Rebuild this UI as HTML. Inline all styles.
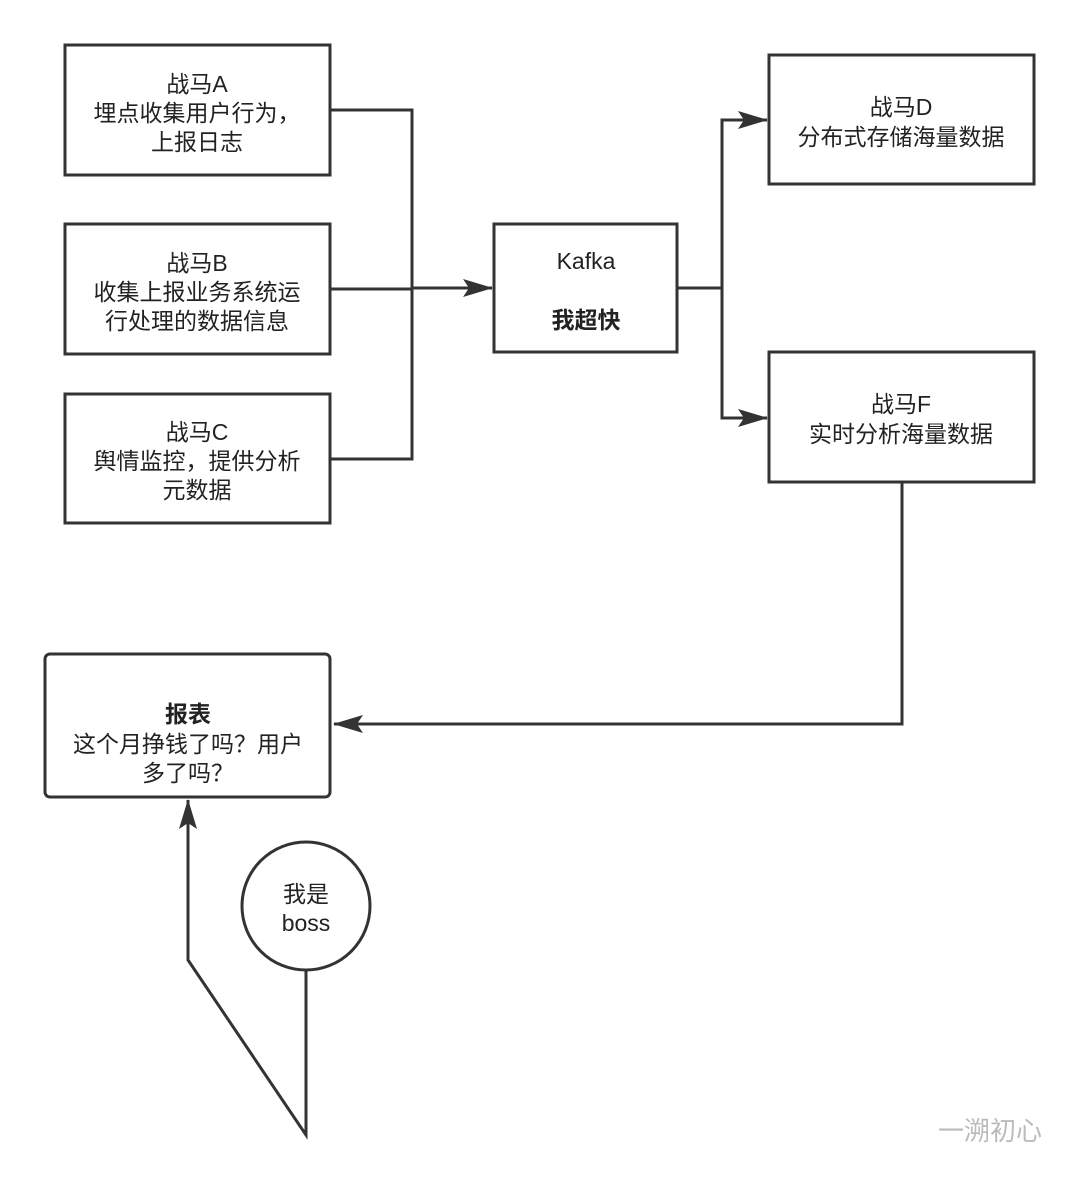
<!DOCTYPE html>
<html><head><meta charset="utf-8"><style>
body{margin:0;background:#fff;}
svg text{font-family:"Liberation Sans","Noto Sans CJK SC",sans-serif;font-size:23px;fill:#222;text-anchor:middle;}
</style></head><body>
<svg width="1080" height="1178" xmlns="http://www.w3.org/2000/svg">
<defs>
<marker id="b" markerWidth="30" markerHeight="20" refX="29" refY="10" orient="auto" markerUnits="userSpaceOnUse" viewBox="0 0 30 20"><path d="M0,1 L30,10 L0,19 L6,10 Z" fill="#333"/></marker></defs>
<g fill="none" stroke="#333" stroke-width="3">
<rect x="65" y="45" width="265" height="130"/>
<rect x="65" y="224" width="265" height="130"/>
<rect x="65" y="394" width="265" height="129"/>
<rect x="494" y="224" width="183" height="128"/>
<rect x="769" y="55" width="265" height="129"/>
<rect x="769" y="352" width="265" height="130"/>
<rect x="45" y="654" width="285" height="143" rx="5"/>
<circle cx="306" cy="906" r="64"/>
<polyline points="330,110 412,110 412,459 330,459"/>
<line x1="330" y1="289" x2="412" y2="289"/>
<line x1="412" y1="288" x2="492" y2="288" marker-end="url(#b)"/>
<polyline points="677,288 722,288"/>
<polyline points="767,120 722,120 722,418 767,418"/>
<line x1="722" y1="120" x2="767" y2="120" marker-end="url(#b)"/>
<line x1="722" y1="418" x2="767" y2="418" marker-end="url(#b)"/>
<polyline points="902,482 902,724 334,724" marker-end="url(#b)"/>
<polyline points="306,970 306,1135 188,960 188,800" marker-end="url(#b)"/>
</g>
<text x="197" y="92">战马A</text><text x="197" y="121">埋点收集用户行为，</text><text x="197" y="150">上报日志</text>
<text x="197" y="271">战马B</text><text x="197" y="300">收集上报业务系统运</text><text x="197" y="329">行处理的数据信息</text>
<text x="197" y="440">战马C</text><text x="197" y="469">舆情监控，提供分析</text><text x="197" y="498">元数据</text>
<text x="586" y="269">Kafka</text><text x="586" y="328" font-weight="bold">我超快</text>
<text x="901" y="115">战马D</text><text x="901" y="145">分布式存储海量数据</text>
<text x="901" y="412">战马F</text><text x="901" y="442">实时分析海量数据</text>
<text x="188" y="722" font-weight="bold">报表</text><text x="188" y="752">这个月挣钱了吗？用户</text><text x="188" y="781">多了吗？</text>
<text x="306" y="902">我是</text><text x="306" y="931">boss</text>
<text x="990" y="1140" style="font-size:26px;fill:#bbb">一溯初心</text>
</svg>
</body></html>
